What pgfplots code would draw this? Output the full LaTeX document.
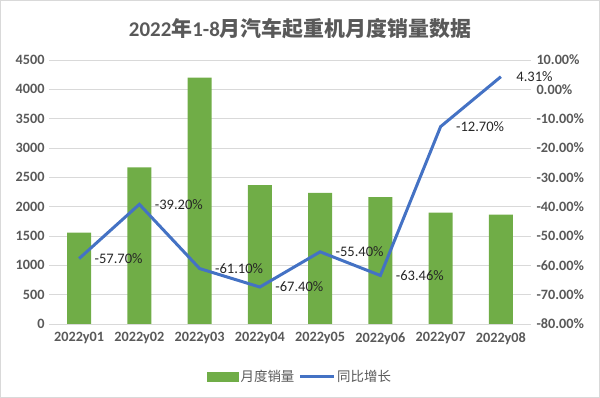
\documentclass[border=0pt]{standalone}
\usepackage{pgfplots}
\pgfplotsset{compat=1.18}
\usepackage{fontspec}
\setmainfont{Carlito}
\newfontfamily\cjk{Noto Sans CJK SC}
\definecolor{barc}{HTML}{70AD47}
\definecolor{linec}{HTML}{4472C4}
\definecolor{gridc}{HTML}{D9D9D9}
\definecolor{tickc}{HTML}{595959}
\definecolor{labc}{HTML}{262626}
\begin{document}
\begin{tikzpicture}
\draw[gridc, line width=1bp] (0.5bp,0.5bp) rectangle (599.5bp,397.5bp);
\node[text=tickc, font=\fontsize{21}{24}\selectfont\bfseries] at (300bp,369bp) {2022{\cjk 年}1-8{\cjk 月汽车起重机月度销量数据}};
\begin{axis}[
  at={(49bp,74bp)}, anchor=south west,
  scale only axis, width=482bp, height=264bp,
  xmin=-0.5, xmax=7.5, ymin=0, ymax=4500,
  ytick={0,500,...,4500},
  xtick={0,...,7},
  xticklabels={2022y01,2022y02,2022y03,2022y04,2022y05,2022y06,2022y07,2022y08},
  axis y line*=left, axis x line*=bottom,
  axis line style={draw=none},
  major tick length=0pt,
  ymajorgrids, grid style={gridc, line width=0.8bp},
  /pgf/number format/assume math mode=true,
  /pgf/number format/1000 sep={},
  tick label style={text=tickc, font=\fontsize{14.3}{16}\selectfont\bfseries},
  xticklabel style={yshift=-5bp},
  yticklabel style={xshift=-1bp},
]
\addplot[ybar, bar width=24bp, fill=barc, draw=none] coordinates {
 (0,1556) (1,2670) (2,4198) (3,2369) (4,2237) (5,2164) (6,1898) (7,1864)};
\end{axis}
\begin{axis}[
  at={(49bp,74bp)}, anchor=south west,
  scale only axis, width=482bp, height=264bp,
  xmin=-0.5, xmax=7.5, ymin=-80, ymax=10,
  ytick={-80,-70,...,10},
  axis y line*=right, axis x line=none,
  axis line style={draw=none},
  major tick length=0pt,
  /pgf/number format/assume math mode=true,
  yticklabel={\pgfmathprintnumber[fixed,fixed zerofill,precision=2]{\tick}\%},
  tick label style={text=tickc, font=\fontsize{14.3}{16}\selectfont\bfseries},
  yticklabel style={anchor=west, xshift=2bp},
  legend style={at={(0.521,-0.2)}, anchor=center, draw=none, fill=none,
    legend columns=2, font=\cjk\fontsize{13.5}{15}\selectfont, text=tickc,
    /tikz/every even column/.append style={column sep=2bp}},
]
\addlegendimage{legend image code/.code={\fill[barc] (0bp,-4.5bp) rectangle (31bp,4.5bp);}}
\addlegendentry{月度销量}
\addplot[linec, line width=3bp, mark=none,
  point meta=explicit symbolic, nodes near coords,
  every node near coord/.append style={anchor=west, xshift=13bp, yshift=0bp, text=labc,
    font=\fontsize{14.6}{16}\selectfont, inner sep=1bp},
  legend image code/.code={\draw[linec, line width=2.8bp] (0bp,0bp) -- (34bp,0bp);}]
 coordinates {
 (0,-57.7) [-57.70\%]
 (1,-39.2) [-39.20\%]
 (2,-61.1) [-61.10\%]
 (3,-67.4) [-67.40\%]
 (4,-55.4) [-55.40\%]
 (5,-63.46) [-63.46\%]
 (6,-12.7) [-12.70\%]
 (7,4.31) [4.31\%]
 };
\addlegendentry{同比增长}
\end{axis}
\end{tikzpicture}
\end{document}
